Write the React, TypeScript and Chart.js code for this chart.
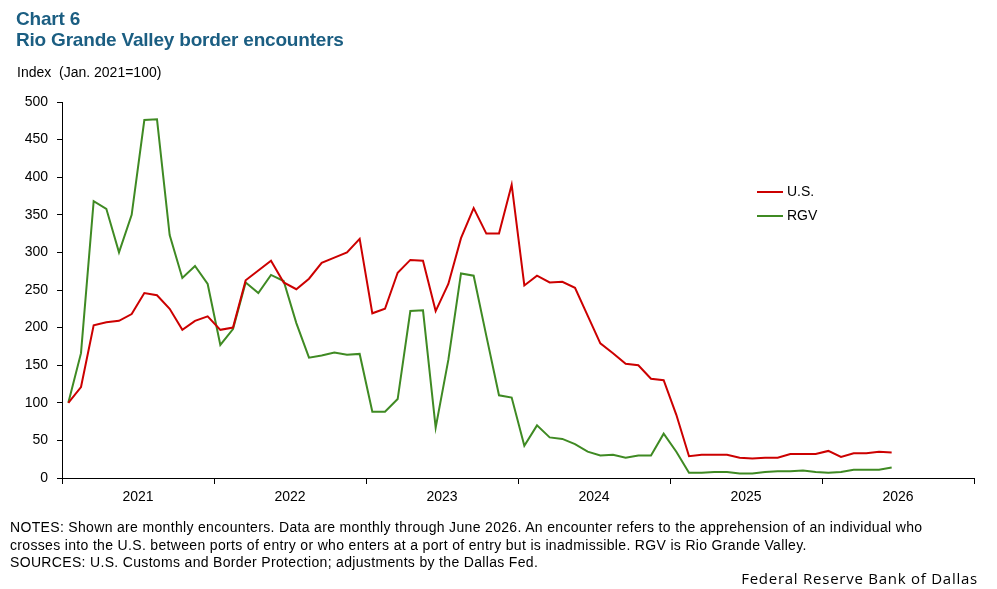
import React, { useEffect, useRef } from "react";
import { Chart, registerables } from "chart.js";

Chart.register(...registerables);

// Monthly, Jan 2021 .. Jun 2026 (index = months since Jan 2021)
const startYear = 2021;
const yearLabels = ["2021", "2022", "2023", "2024", "2025", "2026"];

const usValues = [
  100, 121, 203, 207, 209, 218, 246, 243, 225, 197, 209, 215,
  197, 200, 263, 276, 289, 260, 251, 265, 286, 293, 300, 318,
  219, 225, 273, 290, 289, 222, 258, 319, 359, 325, 325, 390,
  256, 269, 260, 261, 253, 216, 179, 166, 152, 150, 132, 130,
  84, 29, 31, 31, 31, 27, 26, 27, 27, 32, 32, 32,
  36, 28, 33, 33, 35, 34,
];

const rgvValues = [
  100, 166, 368, 358, 300, 350, 476, 477, 323, 266, 282, 258,
  177, 198, 260, 246, 270, 262, 206, 160, 163, 167, 164, 165,
  88, 88, 105, 222, 223, 67, 157, 272, 269, 189, 110, 107,
  43, 70, 54, 52, 45, 35, 30, 31, 27, 30, 30, 59,
  35, 7, 7, 8, 8, 6, 6, 8, 9, 9, 10, 8,
  7, 8, 11, 11, 11, 14,
];

const yTicks = [0, 50, 100, 150, 200, 250, 300, 350, 400, 450, 500];

const FONT = "'Liberation Sans', Arial, sans-serif";

function toPoints(vals: number[]) {
  return vals.map((v, i) => ({ x: i + 0.5, y: v }));
}

export default function App() {
  const ref = useRef<HTMLCanvasElement | null>(null);

  useEffect(() => {
    document.body.style.margin = "0";
    if (!ref.current) return;
    const chart = new Chart(ref.current, {
      type: "line",
      data: {
        datasets: [
          {
            label: "U.S.",
            data: toPoints(usValues),
            borderColor: "#cc0000",
            backgroundColor: "#cc0000",
            borderWidth: 2,
            pointRadius: 0,
            tension: 0,
          },
          {
            label: "RGV",
            data: toPoints(rgvValues),
            borderColor: "#3f8a23",
            backgroundColor: "#3f8a23",
            borderWidth: 2,
            pointRadius: 0,
            tension: 0,
          },
        ],
      },
      options: {
        animation: false,
        responsive: false,
        devicePixelRatio: 1,
        layout: { padding: { left: 0, top: 102, right: 23, bottom: 81 } },
        plugins: {
          legend: { display: false },
          tooltip: { enabled: false },
        },
        scales: {
          x: {
            type: "linear",
            min: 0,
            max: yearLabels.length * 12,
            afterFit: (s: any) => {
              s.height = 30;
            },
            afterBuildTicks: (s: any) => {
              const t = [];
              for (let v = 0; v <= yearLabels.length * 12; v += 6) t.push({ value: v });
              s.ticks = t;
            },
            border: { display: true, color: "#000", width: 1 },
            grid: {
              drawOnChartArea: false,
              drawTicks: true,
              tickLength: 6,
              color: (ctx: any) =>
                ctx.tick && ctx.tick.value % 12 === 0 ? "#000" : "rgba(0,0,0,0)",
              lineWidth: 1,
            },
            ticks: {
              autoSkip: false,
              maxRotation: 0,
              padding: 5,
              color: "#000",
              font: { family: FONT, size: 14 },
              callback: (v: any) => {
                const n = Number(v);
                if (n % 12 === 6) return yearLabels[(n - 6) / 12] ?? String(startYear + (n - 6) / 12);
                return "";
              },
            },
          },
          y: {
            min: 0,
            max: 500,
            afterFit: (s: any) => {
              s.width = 62;
            },
            afterBuildTicks: (s: any) => {
              s.ticks = yTicks.map((v) => ({ value: v }));
            },
            border: { display: true, color: "#000", width: 1 },
            grid: {
              drawOnChartArea: false,
              drawTicks: true,
              tickLength: 5,
              color: "#000",
            },
            ticks: {
              padding: 9,
              color: "#000",
              font: { family: FONT, size: 14 },
            },
          },
        },
      },
    });
    return () => chart.destroy();
  }, []);

  const abs = (x: number, y: number): React.CSSProperties => ({
    position: "absolute",
    left: x,
    top: y,
    whiteSpace: "nowrap",
    fontFamily: FONT,
  });

  return (
    <div style={{ position: "fixed", left: 0, top: 0, width: 997, height: 589, background: "#fff", overflow: "hidden" }}>
      <canvas ref={ref} width={997} height={589} style={{ position: "absolute", left: 0, top: 0, width: 997, height: 589 }} />
      <div style={{ ...abs(16, 8), fontSize: 19, fontWeight: "bold", color: "#1b5e82", letterSpacing: -0.2, lineHeight: "21px" }}>
        Chart 6
        <br />
        Rio Grande Valley border encounters
      </div>
      <div style={{ ...abs(17, 64), fontSize: 14, color: "#000", whiteSpace: "pre" }}>Index  (Jan. 2021=100)</div>
      {/* legend */}
      <div style={{ position: "absolute", left: 757, top: 191, width: 26, height: 2, background: "#cc0000" }} />
      <div style={{ ...abs(787, 183), fontSize: 14, color: "#000" }}>U.S.</div>
      <div style={{ position: "absolute", left: 757, top: 215, width: 26, height: 2, background: "#3f8a23" }} />
      <div style={{ ...abs(787, 207), fontSize: 14, color: "#000" }}>RGV</div>
      {/* notes */}
      <div style={{ ...abs(10, 519), fontSize: 14, letterSpacing: 0.33, color: "#000", lineHeight: "17.5px" }}>
        NOTES: Shown are monthly encounters. Data are monthly through June 2026. An encounter refers to the apprehension of an individual who
        <br />
        crosses into the U.S. between ports of entry or who enters at a port of entry but is inadmissible. RGV is Rio Grande Valley.
        <br />
        SOURCES: U.S. Customs and Border Protection; adjustments by the Dallas Fed.
      </div>
      <div style={{ position: "absolute", right: 19, top: 568, fontSize: 15, letterSpacing: 0.75, fontFamily: "'Open Sans', sans-serif", color: "#000", whiteSpace: "nowrap" }}>
        Federal Reserve Bank of Dallas
      </div>
    </div>
  );
}
